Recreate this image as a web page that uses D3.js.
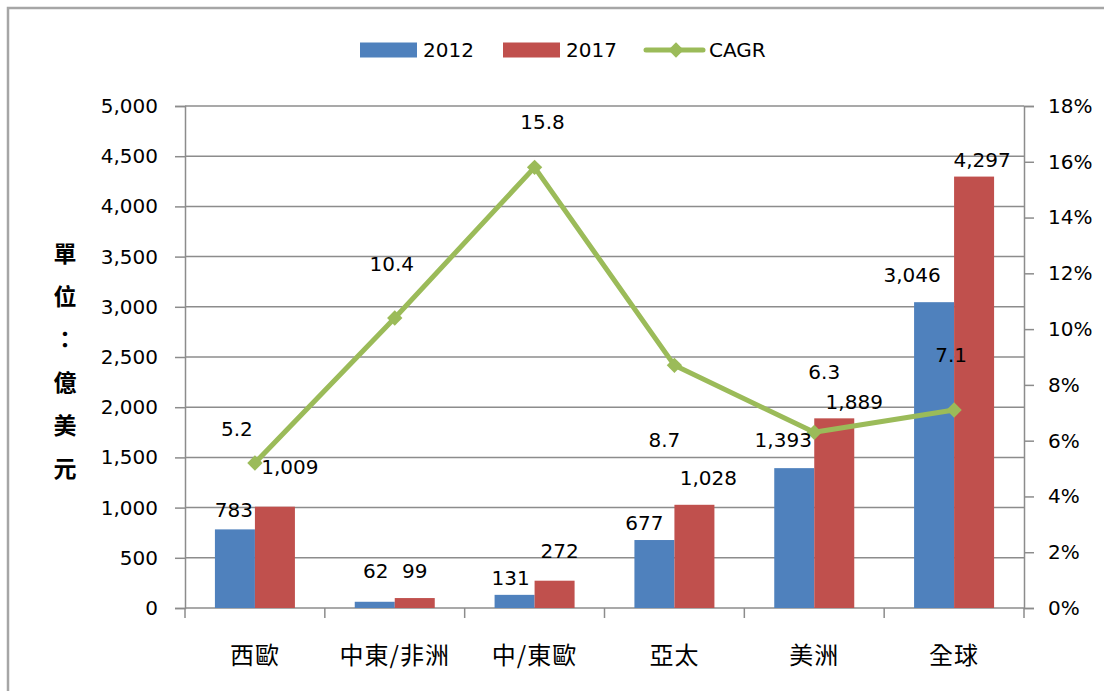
<!DOCTYPE html>
<html>
<head>
<meta charset="utf-8">
<script src="https://cdn.jsdelivr.net/npm/d3@7"></script>
<style>
  body { margin: 0; background: #fff; }
  text { font-family: "DejaVu Sans", sans-serif; fill: #000; }
  .cjk { font-family: "Noto Sans CJK TC", sans-serif; }
</style>
</head>
<body>
<div id="chart"></div>
<script>
// data
let regions = ["西歐", "中東/非洲", "中/東歐", "亞太", "美洲", "全球"];
let values2012 = [783, 62, 131, 677, 1393, 3046];
let values2017 = [1009, 99, 272, 1028, 1889, 4297];
let cagr = [5.2, 10.4, 15.8, 8.7, 6.3, 7.1];
let leftTicks = [0, 500, 1000, 1500, 2000, 2500, 3000, 3500, 4000, 4500, 5000];
let rightTicks = [0, 2, 4, 6, 8, 10, 12, 14, 16, 18];
let yTitle = "單位：億美元";

// label nudges (the labels were dragged around by hand in the original)
let nudge2012 = [[-1, -4], [1, -16], [-4, -2], [-10, -2], [-11, -13], [-22, -12]];
let nudge2017 = [[15, -25], [0, -12], [5, -15], [14, -12], [20, -1], [8, -2]];
let nudgeCagr = [[-18, -34], [-3, -54], [8, -45], [-10, 75], [10, -60], [-3, -55]];

let svgWidth = 1104;
let svgHeight = 691;
let plotLeft = 185, plotRight = 1024, plotTop = 106, plotBottom = 608;
let blue = "#4f81bd", red = "#c0504d", green = "#9bbb59", gridColor = "#8c8c8c";

let svg = d3.select("#chart").append("svg")
  .attr("width", svgWidth)
  .attr("height", svgHeight);

// outer frame
svg.append("path")
  .attr("d", "M8," + svgHeight + " L8,8 L" + svgWidth + ",8")
  .attr("fill", "none")
  .attr("stroke", "#a6a6a6")
  .attr("stroke-width", 2.5);

let x = d3.scaleBand().domain(regions).range([plotLeft, plotRight]);
let xSub = d3.scaleBand().domain(["2012", "2017"])
  .range([x.bandwidth() / 2 - 40, x.bandwidth() / 2 + 40]);
let y = d3.scaleLinear().domain([0, 5000]).range([plotBottom, plotTop]);
let y2 = d3.scaleLinear().domain([0, 18]).range([plotBottom, plotTop]);

// gridlines
svg.append("g").selectAll("line").data(leftTicks.slice(1)).enter()
  .append("line")
  .attr("x1", plotLeft).attr("x2", plotRight)
  .attr("y1", d => y(d)).attr("y2", d => y(d))
  .attr("stroke", gridColor)
  .attr("stroke-width", 1.5);

// axes
let leftAxis = svg.append("g")
  .attr("transform", "translate(" + plotLeft + ",0)")
  .call(d3.axisLeft(y).tickValues(leftTicks).tickFormat(d3.format(",")).tickSize(10).tickPadding(17));
let rightAxis = svg.append("g")
  .attr("transform", "translate(" + plotRight + ",0)")
  .call(d3.axisRight(y2).tickValues(rightTicks).tickFormat(d => d + "%").tickSize(10).tickPadding(14));
[leftAxis, rightAxis].forEach(a => {
  a.select(".domain").attr("stroke", gridColor).attr("stroke-width", 1.5);
  a.selectAll(".tick line").attr("stroke", gridColor).attr("stroke-width", 1.5);
  a.selectAll(".tick text").attr("font-size", 20).attr("font-family", "DejaVu Sans").attr("fill", "#000");
});

// bottom axis: line, boundary ticks, category labels
let xAxis = svg.append("g");
xAxis.append("line")
  .attr("x1", plotLeft).attr("x2", plotRight)
  .attr("y1", plotBottom).attr("y2", plotBottom)
  .attr("stroke", gridColor).attr("stroke-width", 1.5);
let bounds = regions.map(r => x(r)).concat([x(regions[regions.length - 1]) + x.bandwidth()]);
xAxis.selectAll(".bt").data(bounds).enter()
  .append("line")
  .attr("x1", d => d).attr("x2", d => d)
  .attr("y1", plotBottom).attr("y2", plotBottom + 10)
  .attr("stroke", gridColor).attr("stroke-width", 1.5);
xAxis.selectAll(".cat").data(regions).enter()
  .append("text")
  .attr("class", "cjk")
  .attr("x", d => x(d) + x.bandwidth() / 2)
  .attr("y", 664)
  .attr("text-anchor", "middle")
  .attr("font-size", 24)
  .attr("letter-spacing", 1)
  .text(d => d);

// y-axis title, stacked vertically
svg.append("g").selectAll("text").data(yTitle.split("")).enter()
  .append("text")
  .attr("class", "cjk")
  .attr("x", 65)
  .attr("y", (d, i) => 262 + i * 43)
  .attr("text-anchor", "middle")
  .attr("font-size", 23)
  .attr("font-weight", "bold")
  .text(d => d);

// bars
let rows = regions.map((r, i) => ({ region: r, i: i, "2012": values2012[i], "2017": values2017[i] }));
let groups = svg.append("g").selectAll("g").data(rows).enter()
  .append("g")
  .attr("transform", d => "translate(" + x(d.region) + ",0)");
groups.selectAll("rect").data(d => ["2012", "2017"].map(k => ({ key: k, value: d[k] }))).enter()
  .append("rect")
  .attr("x", d => xSub(d.key))
  .attr("width", xSub.bandwidth())
  .attr("y", d => y(d.value))
  .attr("height", d => plotBottom - y(d.value))
  .attr("fill", d => d.key == "2012" ? blue : red);

// CAGR line
let cx = (d, i) => x(regions[i]) + x.bandwidth() / 2;
let line = d3.line().x((d, i) => cx(d, i)).y(d => y2(d));
svg.append("path")
  .datum(cagr)
  .attr("d", line)
  .attr("fill", "none")
  .attr("stroke", green)
  .attr("stroke-width", 5)
  .attr("stroke-linejoin", "round");
svg.append("g").selectAll("path").data(cagr).enter()
  .append("path")
  .attr("d", d3.symbol().type(d3.symbolDiamond2).size(150))
  .attr("transform", (d, i) => "translate(" + cx(d, i) + "," + y2(d) + ")")
  .attr("fill", green);

// bar labels
function barLabels(vals, key, nudges) {
  svg.append("g").selectAll("text").data(vals).enter()
    .append("text")
    .attr("x", (d, i) => x(regions[i]) + xSub(key) + xSub.bandwidth() / 2 + nudges[i][0])
    .attr("y", (d, i) => y(d) - 8 + nudges[i][1])
    .attr("text-anchor", "middle")
    .attr("font-size", 20)
    .text(d => d3.format(",")(d));
}
barLabels(values2012, "2012", nudge2012);
barLabels(values2017, "2017", nudge2017);

// CAGR labels
svg.append("g").selectAll("text").data(cagr).enter()
  .append("text")
  .attr("x", (d, i) => cx(d, i) + nudgeCagr[i][0])
  .attr("y", (d, i) => y2(d) + nudgeCagr[i][1])
  .attr("dy", "0.35em")
  .attr("text-anchor", "middle")
  .attr("font-size", 20)
  .text(d => d3.format(".1f")(d));

// legend
let legendItems = [
  { name: "2012", color: blue, type: "rect", x: 360 },
  { name: "2017", color: red, type: "rect", x: 503 },
  { name: "CAGR", color: green, type: "line", x: 646 }
];
let legend = svg.append("g").selectAll("g").data(legendItems).enter()
  .append("g")
  .attr("transform", d => "translate(" + d.x + ",50)");
legend.filter(d => d.type == "rect").append("rect")
  .attr("x", 0).attr("y", -7.5)
  .attr("width", 57).attr("height", 15)
  .attr("fill", d => d.color);
legend.filter(d => d.type == "line").append("line")
  .attr("x1", 0).attr("x2", 57).attr("y1", 0).attr("y2", 0)
  .attr("stroke", d => d.color).attr("stroke-width", 5).attr("stroke-linecap", "round");
legend.filter(d => d.type == "line").append("path")
  .attr("d", d3.symbol().type(d3.symbolDiamond2).size(150))
  .attr("transform", "translate(30,0)")
  .attr("fill", d => d.color);
legend.append("text")
  .attr("x", 63)
  .attr("y", 0)
  .attr("dy", "0.35em")
  .attr("font-size", 20)
  .text(d => d.name);
</script>
</body>
</html>
